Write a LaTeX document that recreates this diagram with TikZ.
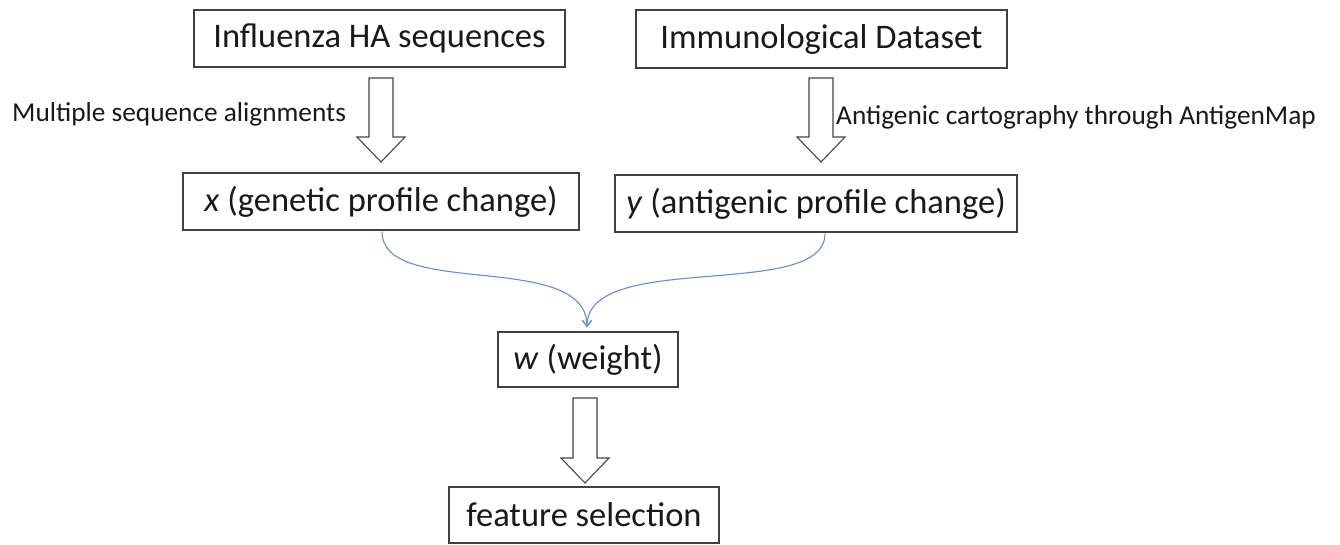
\documentclass[tikz,border=0pt]{standalone}
\usepackage{fontspec}
\setmainfont{Carlito}
\usetikzlibrary{arrows.meta,calc}
\definecolor{boxline}{RGB}{64,64,64}
\definecolor{arrline}{RGB}{70,70,70}
\definecolor{curveblue}{RGB}{105,142,205}
\definecolor{txt}{RGB}{25,25,25}
\newcommand\blockarrow[2]{%
  \draw[blockarr] let \p1=(#1), \p2=(#2) in
    (\x1-12pt,\y1) -- (\x1+12pt,\y1) -- (\x1+12pt,\y2+25pt) -- (\x1+24pt,\y2+25pt)
    -- (\x1,\y2) -- (\x1-24pt,\y2+25pt) -- (\x1-12pt,\y2+25pt) -- cycle;}
\begin{document}
\begin{tikzpicture}[x=1pt,y=-1pt,
  box/.style={draw=boxline, line width=1.4pt, inner sep=0pt, text=txt,
    font=\fontsize{34.5}{40}\selectfont},
  lab/.style={inner sep=0pt, text=txt, font=\fontsize{27.3}{30}\selectfont},
  blockarr/.style={draw=arrline, line width=1.1pt, fill=white, line join=miter},
  link/.style={draw=curveblue, line width=1.1pt, -{Straight Barb[length=6pt,width=9pt]}}]
\useasboundingbox (0,0) rectangle (1340,545);
\fill[white] (0,0) rectangle (1340,545);

\node[box, minimum width=371pt, minimum height=57pt] (b1) at (379.5,38.5) {Influenza HA sequences};
\node[box, minimum width=371pt, minimum height=58pt] (b2) at (821.5,39) {Immunological Dataset};
\node[box, minimum width=396pt, minimum height=57pt] (bx) at (381,201.5) {\textit{x} (genetic profile change)};
\node[box, minimum width=402pt, minimum height=57pt] (by) at (816,203.5) {\textit{y} (antigenic profile change)};
\node[box, minimum width=180pt, minimum height=55pt] (bw) at (588,359.5) {\textit{w} (weight)};
\node[box, minimum width=270pt, minimum height=56pt] (bf) at (584,515) {feature selection};

\node[lab, anchor=base west] (l1) at (12,122) {Multiple sequence alignments};
\node[lab, anchor=base west] (l2) at (836,125) {Antigenic cartography through AntigenMap};

\coordinate (a1t) at (381,78);  \coordinate (a1b) at (381,162);
\coordinate (a2t) at (821,78);  \coordinate (a2b) at (821,162);
\coordinate (a3t) at (585,398); \coordinate (a3b) at (585,483);
\blockarrow{a1t}{a1b}
\blockarrow{a2t}{a2b}
\blockarrow{a3t}{a3b}

\coordinate (cl) at ($(bx.south)+(1,1)$);
\coordinate (cr) at ($(by.south)+(9,1)$);
\coordinate (ct) at ($(bw.north)+(-1,-4)$);
\draw[link] (cl) .. controls ($(cl)+(0,68)$) and ($(ct)+(0,-78)$) .. (ct);
\draw[link] (cr) .. controls ($(cr)+(0,68)$) and ($(ct)+(0,-78)$) .. (ct);
\end{tikzpicture}
\end{document}
